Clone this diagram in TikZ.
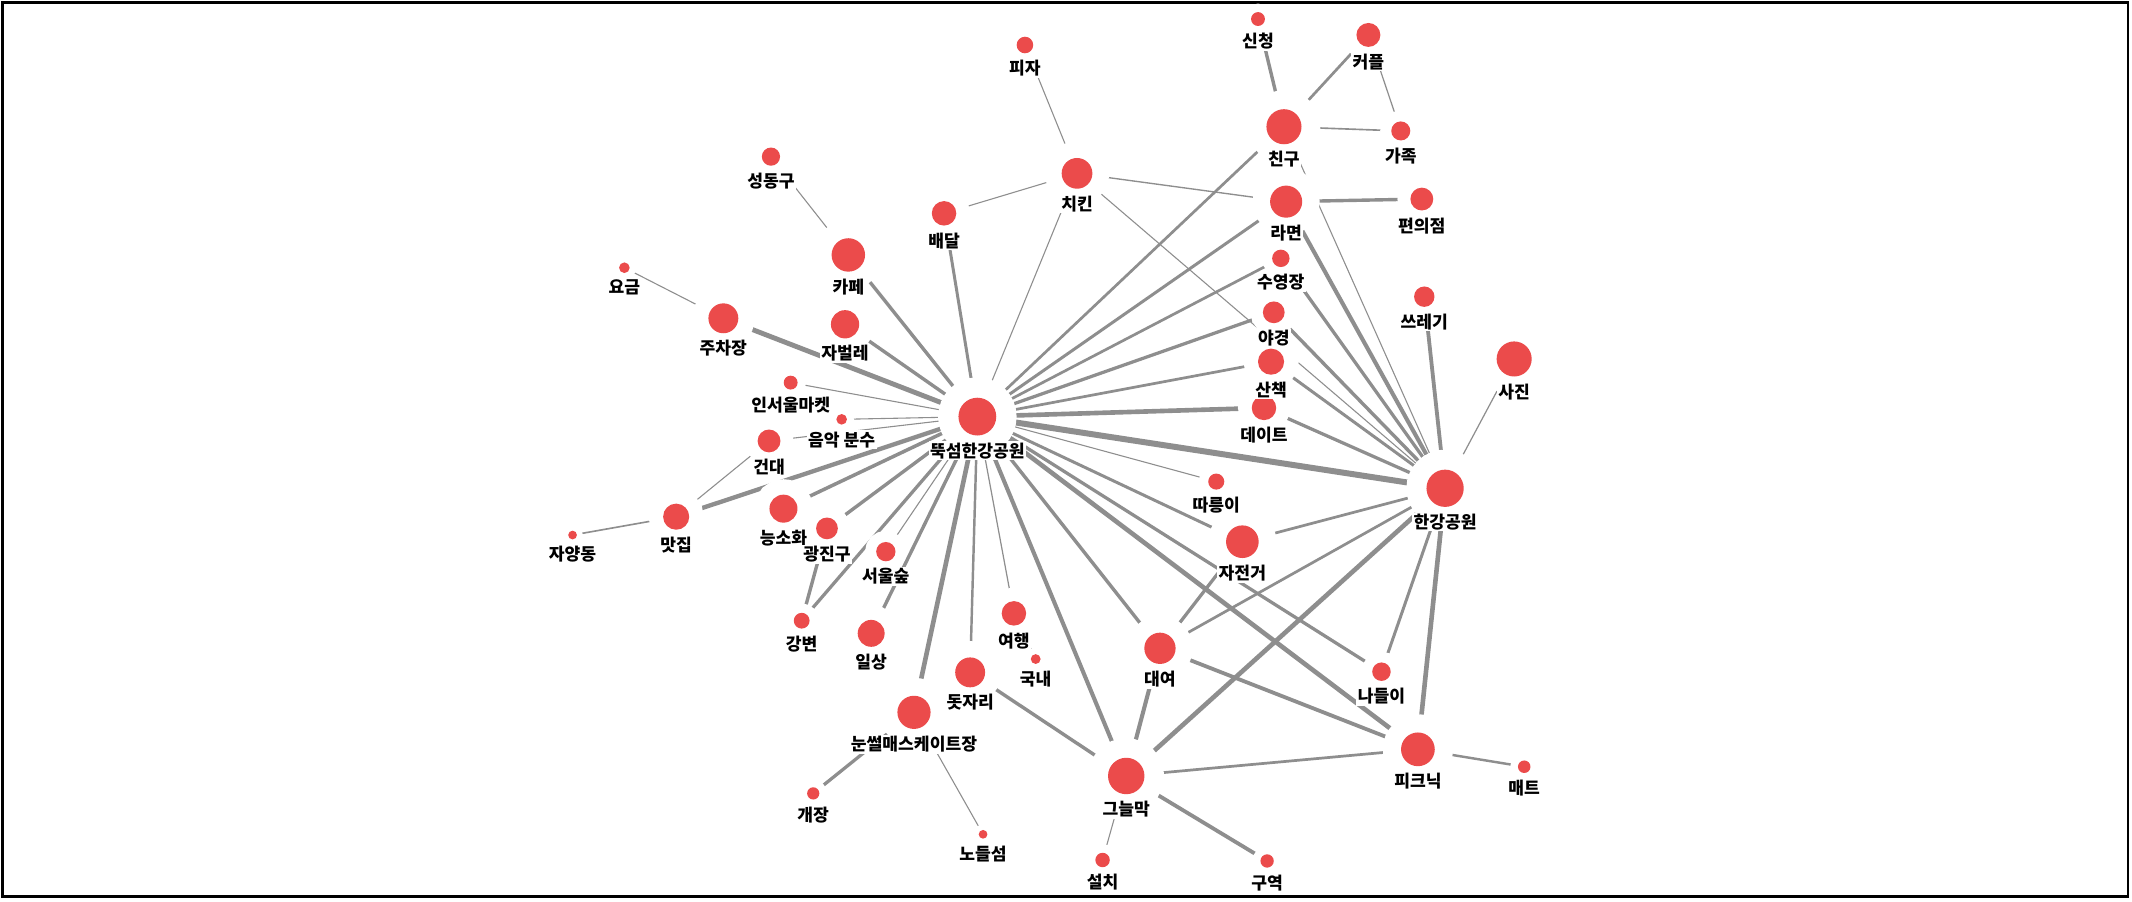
\documentclass[tikz,border=0pt]{standalone}
\usepackage{fontspec}
\setmainfont{Noto Sans CJK KR}
\usetikzlibrary{positioning}
\definecolor{dotred}{HTML}{EB4B4B}
\definecolor{linkgray}{HTML}{8E8E8E}
\pgfdeclarelayer{background}
\pgfsetlayers{background,main}
\tikzset{
  dot/.style={circle, inner sep=0pt, outer sep=0pt, minimum size=2*#1pt, fill=dotred,
              preaction={draw=white, line width=2*#1pt+2pt}},
  lab/.style={font=\bfseries\fontsize{12.6}{12.6}\selectfont, inner sep=1pt, fill=white},
  link/.style={draw=linkgray, line width=#1pt},
}
\begin{document}
\begin{tikzpicture}[x=1pt, y=-1pt]
    \useasboundingbox (0,0) rectangle (1568,663);
    \draw[line width=2pt] (2,2) rectangle (1565,659.5);
    \node[dot=13.9] (park) at (718.8,306.4) {};
    \node[dot=13.7] (hangang) at (1062.8,359.1) {};
    \node[dot=6.1] (pizza) at (753.8,33.1) {};
    \node[dot=11.3] (chicken) at (792.1,127.5) {};
    \node[dot=9] (delivery) at (694.3,156.9) {};
    \node[dot=6.7] (seongdong) at (567,115.2) {};
    \node[dot=12.3] (cafe) at (623.9,187.5) {};
    \node[dot=3.9] (fee) at (459.2,196.9) {};
    \node[dot=11] (parking) at (532,234.1) {};
    \node[dot=10.4] (jabeolle) at (621.5,238.5) {};
    \node[dot=5.1] (market) at (581.5,281.4) {};
    \node[dot=3.9] (fountain) at (619,308.4) {};
    \node[dot=8.4] (kondae) at (565.6,324.3) {};
    \node[dot=9.6] (matjip) at (497.3,380) {};
    \node[dot=3.2] (jayang) at (421.1,393.5) {};
    \node[dot=10.3] (neungsohwa) at (576.2,374.1) {};
    \node[dot=8] (gwangjin) at (608.2,388.6) {};
    \node[dot=7.1] (forest) at (651.5,405.7) {};
    \node[dot=5.8] (riverside) at (589.6,456.5) {};
    \node[dot=9.9] (daily) at (640.7,465.8) {};
    \node[dot=9] (travel) at (745.7,451.1) {};
    \node[dot=3.6] (domestic) at (761.7,484.7) {};
    \node[dot=11] (mat) at (713.5,494.5) {};
    \node[dot=12.2] (sled) at (672.2,523.9) {};
    \node[dot=4.5] (opening) at (598.1,583.5) {};
    \node[dot=3.2] (nodeul) at (723,613.6) {};
    \node[dot=13.4] (shade) at (828.3,570.7) {};
    \node[dot=5.3] (install) at (810.9,632.5) {};
    \node[dot=4.9] (zone) at (931.9,633.2) {};
    \node[dot=11.5] (rental) at (853.1,476.8) {};
    \node[dot=12] (bike) at (913.7,398.4) {};
    \node[dot=5.9] (ttareungi) at (894.5,354.2) {};
    \node[dot=6.8] (outing) at (1016,494) {};
    \node[dot=12.4] (picnic) at (1042.8,551.1) {};
    \node[dot=4.6] (picmat) at (1121,563.9) {};
    \node[dot=9] (date) at (929.6,300) {};
    \node[dot=9.6] (walk) at (934.8,266) {};
    \node[dot=8] (nightview) at (936.8,229.7) {};
    \node[dot=6.4] (pool) at (942,190) {};
    \node[dot=11.8] (ramen) at (945.9,148.3) {};
    \node[dot=12.9] (friend) at (944.3,93.2) {};
    \node[dot=5.1] (apply) at (925.2,14) {};
    \node[dot=8.8] (couple) at (1006.4,25.7) {};
    \node[dot=7] (family) at (1030.2,96.3) {};
    \node[dot=8.4] (store) at (1045.7,146.4) {};
    \node[dot=7.5] (trash) at (1047.5,218.2) {};
    \node[dot=12.9] (photo) at (1113.6,264) {};
    \node[lab, below=4pt of park] (park-t) {뚝섬한강공원};
    \node[lab, below=4pt of hangang] (hangang-t) {한강공원};
    \node[lab, below=4pt of pizza] (pizza-t) {피자};
    \node[lab, below=4pt of chicken] (chicken-t) {치킨};
    \node[lab, below=4pt of delivery] (delivery-t) {배달};
    \node[lab, below=4pt of seongdong] (seongdong-t) {성동구};
    \node[lab, below=4pt of cafe] (cafe-t) {카페};
    \node[lab, below=4pt of fee] (fee-t) {요금};
    \node[lab, below=4pt of parking] (parking-t) {주차장};
    \node[lab, below=4pt of jabeolle] (jabeolle-t) {자벌레};
    \node[lab, below=4pt of market] (market-t) {인서울마켓};
    \node[lab, below=4pt of fountain] (fountain-t) {음악 분수};
    \node[lab, below=4pt of kondae] (kondae-t) {건대};
    \node[lab, below=4pt of matjip] (matjip-t) {맛집};
    \node[lab, below=4pt of jayang] (jayang-t) {자양동};
    \node[lab, below=4pt of neungsohwa] (neungsohwa-t) {능소화};
    \node[lab, below=4pt of gwangjin] (gwangjin-t) {광진구};
    \node[lab, below=4pt of forest] (forest-t) {서울숲};
    \node[lab, below=4pt of riverside] (riverside-t) {강변};
    \node[lab, below=4pt of daily] (daily-t) {일상};
    \node[lab, below=4pt of travel] (travel-t) {여행};
    \node[lab, below=4pt of domestic] (domestic-t) {국내};
    \node[lab, below=4pt of mat] (mat-t) {돗자리};
    \node[lab, below=4pt of sled] (sled-t) {눈썰매스케이트장};
    \node[lab, below=4pt of opening] (opening-t) {개장};
    \node[lab, below=4pt of nodeul] (nodeul-t) {노들섬};
    \node[lab, below=4pt of shade] (shade-t) {그늘막};
    \node[lab, below=4pt of install] (install-t) {설치};
    \node[lab, below=4pt of zone] (zone-t) {구역};
    \node[lab, below=4pt of rental] (rental-t) {대여};
    \node[lab, below=4pt of bike] (bike-t) {자전거};
    \node[lab, below=4pt of ttareungi] (ttareungi-t) {따릉이};
    \node[lab, below=4pt of outing] (outing-t) {나들이};
    \node[lab, below=4pt of picnic] (picnic-t) {피크닉};
    \node[lab, below=4pt of picmat] (picmat-t) {매트};
    \node[lab, below=4pt of date] (date-t) {데이트};
    \node[lab, below=4pt of walk] (walk-t) {산책};
    \node[lab, below=4pt of nightview] (nightview-t) {야경};
    \node[lab, below=4pt of pool] (pool-t) {수영장};
    \node[lab, below=4pt of ramen] (ramen-t) {라면};
    \node[lab, below=4pt of friend] (friend-t) {친구};
    \node[lab, below=4pt of apply] (apply-t) {신청};
    \node[lab, below=4pt of couple] (couple-t) {커플};
    \node[lab, below=4pt of family] (family-t) {가족};
    \node[lab, below=4pt of store] (store-t) {편의점};
    \node[lab, below=4pt of trash] (trash-t) {쓰레기};
    \node[lab, below=4pt of photo] (photo-t) {사진};
    \begin{pgfonlayer}{background}
    \draw[link=4.4] (park) -- (hangang); \draw[link=3.4] (park) -- (date); \draw[link=3.6] (park) -- (parking);
    \draw[link=3.2] (park) -- (matjip); \draw[link=3.4] (park) -- (sled); \draw[link=3.4] (park) -- (picnic);
    \draw[link=3.0] (park) -- (shade); \draw[link=2.5] (park) -- (cafe); \draw[link=2.5] (park) -- (jabeolle);
    \draw[link=2.2] (park) -- (delivery); \draw[link=2.6] (park) -- (neungsohwa); \draw[link=2.5] (park) -- (gwangjin);
    \draw[link=2.4] (park) -- (riverside); \draw[link=2.5] (park) -- (daily); \draw[link=1.8] (park) -- (mat);
    \draw[link=0.9] (park) -- (travel); \draw[link=2.5] (park) -- (rental); \draw[link=2.4] (park) -- (outing);
    \draw[link=2.2] (park) -- (bike); \draw[link=0.8] (park) -- (ttareungi); \draw[link=2.0] (park) -- (walk);
    \draw[link=2.4] (park) -- (nightview); \draw[link=2.0] (park) -- (pool); \draw[link=2.2] (park) -- (ramen);
    \draw[link=2.0] (park) -- (friend); \draw[link=0.8] (park) -- (chicken); \draw[link=0.8] (park) -- (market);
    \draw[link=0.8] (park) -- (fountain); \draw[link=0.8] (park) -- (kondae); \draw[link=0.8] (park) -- (forest);
    \draw[link=0.8] (hangang) -- (friend); \draw[link=3.0] (hangang) -- (ramen); \draw[link=2.4] (hangang) -- (pool);
    \draw[link=2.5] (hangang) -- (nightview); \draw[link=2.2] (hangang) -- (walk); \draw[link=2.4] (hangang) -- (date);
    \draw[link=0.8] (hangang) -- (chicken); \draw[link=2.8] (hangang) -- (trash); \draw[link=0.9] (hangang) -- (photo);
    \draw[link=2.0] (hangang) -- (bike); \draw[link=2.0] (hangang) -- (rental); \draw[link=3.4] (hangang) -- (shade);
    \draw[link=2.2] (hangang) -- (outing); \draw[link=3.4] (hangang) -- (picnic);
    \draw[link=0.8] (chicken) -- (pizza); \draw[link=0.8] (chicken) -- (delivery); \draw[link=1.0] (chicken) -- (ramen);
    \draw[link=0.8] (cafe) -- (seongdong); \draw[link=0.8] (parking) -- (fee);
    \draw[link=1.2] (matjip) -- (jayang); \draw[link=0.8] (matjip) -- (kondae); \draw[link=2.5] (gwangjin) -- (riverside);
    \draw[link=2.5] (friend) -- (apply); \draw[link=2.0] (friend) -- (couple); \draw[link=1.2] (friend) -- (family);
    \draw[link=0.9] (couple) -- (family); \draw[link=2.5] (ramen) -- (store);
    \draw[link=2.4] (bike) -- (rental); \draw[link=3.0] (rental) -- (shade); \draw[link=2.8] (rental) -- (picnic);
    \draw[link=2.0] (shade) -- (picnic); \draw[link=2.5] (shade) -- (mat); \draw[link=0.8] (shade) -- (install);
    \draw[link=2.8] (shade) -- (zone); \draw[link=1.8] (picnic) -- (picmat);
    \draw[link=2.4] (sled) -- (opening); \draw[link=0.8] (sled) -- (nodeul); \draw[link=0.8] (travel) -- (domestic);
    \end{pgfonlayer}
  \end{tikzpicture}
\end{document}
